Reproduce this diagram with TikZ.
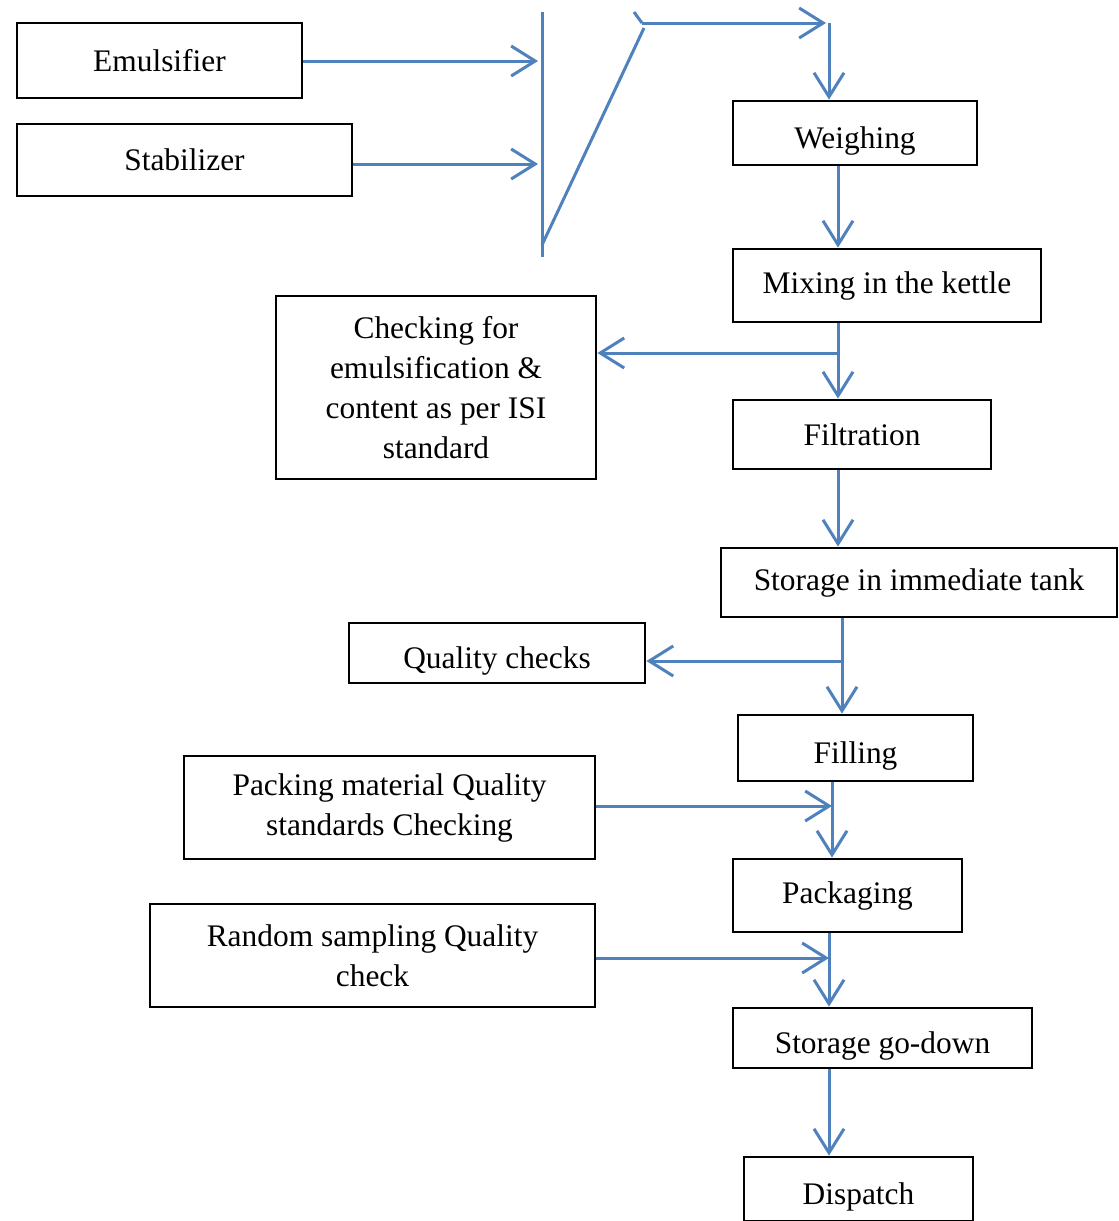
\documentclass[tikz,border=0pt]{standalone}
\usepackage{fontspec}
\setmainfont{Liberation Serif}
\usepackage{xcolor}
\usetikzlibrary{arrows.meta,positioning}
\definecolor{flowblue}{HTML}{4F81BD}

\begin{document}
\begin{tikzpicture}[x=0.5pt,y=-0.5pt,
  sbox/.style={draw,line width=1.4pt,inner sep=0pt,align=center,
               font=\fontsize{15.7pt}{20pt}\selectfont},
  low/.style={text height=15.3pt,text depth=0pt},
  arr/.style={-{Straight Barb[length=12pt,width=15pt]},line width=1.5pt,flowblue},
  ln/.style={line width=1.5pt,flowblue}
]
  \useasboundingbox (0,0) rectangle (1119,1221);

  \node[sbox,minimum width=142.5pt,minimum height=37.5pt] (emul) at (159.5,60.5) {Emulsifier};
  \node[sbox,minimum width=167.5pt,minimum height=36pt] (stab) at (184.5,160) {Stabilizer};
  \node[sbox,low,minimum width=122pt,minimum height=32pt] (weigh) at (855,133) {Weighing};
  \node[sbox,minimum width=154pt,minimum height=36.5pt] (mix) at (887,285.5) {Mixing in the kettle};
  \node[sbox,minimum width=160pt,minimum height=91.5pt] (check) at (436,387.5)
    {Checking for\\ emulsification \&\\ content as per ISI\\ standard};
  \node[sbox,minimum width=129pt,minimum height=34.5pt] (filt) at (862,434.5) {Filtration};
  \node[sbox,minimum width=198pt,minimum height=34.5pt] (store) at (919,582.5) {Storage in immediate tank};
  \node[sbox,low,minimum width=148pt,minimum height=30pt] (qual) at (497,653) {Quality checks};
  \node[sbox,low,minimum width=117.5pt,minimum height=33pt] (fill) at (855.5,748) {Filling};
  \node[sbox,minimum width=205.5pt,minimum height=51.5pt] (pmq) at (389.5,807.5)
    {Packing material Quality\\ standards Checking};
  \node[sbox,minimum width=114.5pt,minimum height=36.5pt] (pack) at (847.5,895.5) {Packaging};
  \node[sbox,minimum width=222.5pt,minimum height=51.5pt] (rsq) at (372.5,955.5)
    {Random sampling Quality\\ check};
  \node[sbox,low,minimum width=149.5pt,minimum height=30pt] (godown) at (882.5,1038) {Storage go-down};
  \node[sbox,low,minimum width=114.5pt,minimum height=32pt] (disp) at (858.5,1189) {Dispatch};

  % junction points
  \coordinate (jtop) at (542,12);
  \coordinate (jbot) at (542,257);
  \coordinate (jdia) at (542,245);
  \coordinate (jknee) at (642,23);
  \coordinate (jtick) at (634,12);
  \coordinate (jright) at (829,23);
  \coordinate (t1) at (838,0);
  \coordinate (t2) at (842,0);
  \coordinate (t3) at (832,0);
  \coordinate (t4) at (829,0);
  \coordinate (b1) at (838,353);
  \coordinate (b2) at (842,661);
  \coordinate (b3) at (832,806);
  \coordinate (b4) at (829,958);

  \draw[arr] (emul.east |- 0,61) -- (538,61);
  \draw[arr] (stab.east |- 0,164) -- (538,164);
  \draw[ln] (jtop) -- (jbot);
  \draw[ln] (jdia) -- (644,28);
  \draw[ln] (jtick) -- (jknee);
  \draw[arr] (jknee) -- (826,23);
  \draw[arr] (jright) -- (weigh.north -| jright);

  \draw[arr] (weigh.south -| t1) -- (mix.north -| t1);
  \draw[arr] (mix.south -| t1) -- (filt.north -| t1);
  \draw[arr] (b1) -- (check.east |- b1);
  \draw[arr] (filt.south -| t1) -- (store.north -| t1);
  \draw[arr] (store.south -| t2) -- (fill.north -| t2);
  \draw[arr] (b2) -- (qual.east |- b2);
  \draw[arr] (fill.south -| t3) -- (pack.north -| t3);
  \draw[arr] (pmq.east |- b3) -- (b3);
  \draw[arr] (pack.south -| t4) -- (godown.north -| t4);
  \draw[arr] (rsq.east |- b4) -- (b4);
  \draw[arr] (godown.south -| t4) -- (disp.north -| t4);
\end{tikzpicture}
\end{document}
